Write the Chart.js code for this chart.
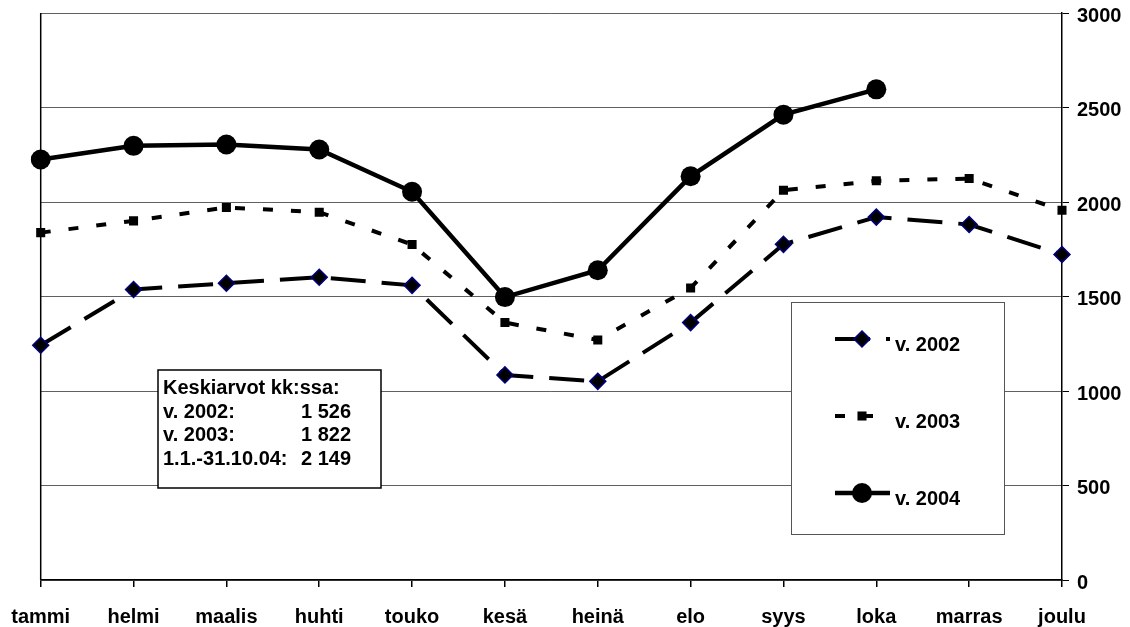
<!DOCTYPE html>
<html lang="fi">
<head>
  <meta charset="UTF-8">
  <title>Keskiarvot kk:ssa</title>
  <style>
    html, body {
      margin: 0;
      padding: 0;
      background-color: #ffffff;
    }
    #chart {
      display: block;
    }
  </style>
  <script src="https://cdn.jsdelivr.net/npm/chart.js"></script>
</head>
<body>
  <canvas id="chart" width="1130" height="627"></canvas>
  <script>
    // kuukaudet ja sarjat (luettu kuvasta)
    const months = ['tammi', 'helmi', 'maalis', 'huhti', 'touko', 'kesä', 'heinä', 'elo', 'syys', 'loka', 'marras', 'joulu'];
    const v2002 = [1242, 1537, 1570, 1602, 1559, 1085, 1051, 1362, 1776, 1920, 1881, 1722];
    const v2003 = [1838, 1900, 1971, 1946, 1775, 1362, 1270, 1545, 2062, 2112, 2124, 1956];
    const v2004 = [2225, 2297, 2304, 2278, 2054, 1497, 1639, 2136, 2462, 2596, null, null];
    const seriesLabels = ['v. 2002', 'v. 2003', 'v. 2004'];
    const yMin = 0;
    const yMax = 3000;
    const yStep = 500;
    const avgTitle = 'Keskiarvot kk:ssa:';
    const avgNames = ['v. 2002:', 'v. 2003:', '1.1.-31.10.04:'];
    const avgValues = ['1 526', '1 822', '2 149'];

    const FONT = "'Liberation Sans', Arial, sans-serif";

    // vasen reunaviiva
    const frameLine = {
      id: 'frameLine',
      beforeDatasetsDraw(chart) {
        const { ctx, chartArea } = chart;
        ctx.save();
        ctx.strokeStyle = '#000';
        ctx.lineWidth = 1.5;
        ctx.beginPath();
        ctx.moveTo(chartArea.left, chartArea.top);
        ctx.lineTo(chartArea.left, chartArea.bottom);
        ctx.stroke();
        ctx.restore();
      }
    };

    function drawMarker(ctx, style, x, y, r, fill, stroke, sw) {
      ctx.save();
      ctx.setLineDash([]);
      ctx.fillStyle = fill;
      ctx.beginPath();
      if (style === 'circle') {
        ctx.arc(x, y, r, 0, Math.PI * 2);
      } else if (style === 'rect') {
        const s = r * Math.SQRT1_2;
        ctx.rect(x - s, y - s, 2 * s, 2 * s);
      } else {
        ctx.moveTo(x, y - r);
        ctx.lineTo(x + r, y);
        ctx.lineTo(x, y + r);
        ctx.lineTo(x - r, y);
        ctx.closePath();
      }
      ctx.fill();
      if (sw) {
        ctx.strokeStyle = stroke;
        ctx.lineWidth = sw;
        ctx.stroke();
      }
      ctx.restore();
    }

    // selite ja keskiarvolaatikko
    const boxes = {
      id: 'boxes',
      afterDatasetsDraw(chart) {
        const { ctx } = chart;
        ctx.save();

        // selite
        ctx.fillStyle = '#fff';
        ctx.fillRect(791, 302, 213, 232);
        ctx.strokeStyle = '#555';
        ctx.lineWidth = 1;
        ctx.strokeRect(791.5, 302.5, 213, 232);

        const rows = [339, 416, 493];
        const textRows = [345, 422, 499];
        chart.data.datasets.forEach((ds, i) => {
          const y = rows[i];
          ctx.save();
          ctx.strokeStyle = '#000';
          ctx.lineWidth = ds.borderWidth;
          ctx.setLineDash(ds.borderDash || []);
          ctx.beginPath();
          ctx.moveTo(835, y);
          ctx.lineTo(890, y);
          ctx.stroke();
          ctx.restore();
          drawMarker(ctx, ds.pointStyle, 862, y, ds.pointRadius, ds.pointBackgroundColor, ds.pointBorderColor, ds.pointBorderWidth);
          ctx.fillStyle = '#000';
          ctx.font = 'bold 20px ' + FONT;
          ctx.textAlign = 'left';
          ctx.textBaseline = 'middle';
          ctx.fillText(ds.label, 895, textRows[i]);
        });

        // keskiarvot
        ctx.fillStyle = '#fff';
        ctx.fillRect(158, 370, 223, 118);
        ctx.strokeStyle = '#000';
        ctx.lineWidth = 1.5;
        ctx.strokeRect(158, 370, 223, 118);
        ctx.fillStyle = '#000';
        ctx.font = 'bold 20px ' + FONT;
        ctx.textBaseline = 'middle';
        ctx.textAlign = 'left';
        ctx.fillText(avgTitle, 163, 388);
        const lines = [412, 435, 459];
        avgNames.forEach((name, i) => {
          ctx.textAlign = 'left';
          ctx.fillText(name, 163, lines[i]);
          ctx.textAlign = 'right';
          ctx.fillText(avgValues[i], 351, lines[i]);
        });
        ctx.restore();
      }
    };

    const ctx = document.getElementById('chart').getContext('2d');
    new Chart(ctx, {
      type: 'line',
      data: {
        labels: months,
        datasets: [
          {
            label: seriesLabels[0],
            data: v2002,
            borderColor: '#000',
            borderWidth: 4,
            borderDash: [35, 16],
            pointStyle: 'rectRot',
            pointRadius: 8,
            pointBackgroundColor: '#000',
            pointBorderColor: '#000080',
            pointBorderWidth: 1.5,
            tension: 0,
            fill: false
          },
          {
            label: seriesLabels[1],
            data: v2003,
            borderColor: '#000',
            borderWidth: 4,
            borderDash: [10, 18],
            pointStyle: 'rect',
            pointRadius: 6.4,
            pointBackgroundColor: '#000',
            pointBorderColor: '#000',
            pointBorderWidth: 0,
            tension: 0,
            fill: false
          },
          {
            label: seriesLabels[2],
            data: v2004,
            borderColor: '#000',
            borderWidth: 4.5,
            pointStyle: 'circle',
            pointRadius: 10,
            pointBackgroundColor: '#000',
            pointBorderColor: '#000',
            pointBorderWidth: 0,
            tension: 0,
            fill: false,
            spanGaps: false
          }
        ]
      },
      options: {
        responsive: false,
        animation: false,
        layout: {
          padding: { left: 40.7, top: 13, right: 0, bottom: 0 }
        },
        plugins: {
          legend: { display: false },
          tooltip: { enabled: false }
        },
        scales: {
          x: {
            type: 'category',
            offset: false,
            grid: {
              drawOnChartArea: false,
              drawTicks: true,
              tickLength: 7,
              color: '#000',
              lineWidth: 1.5
            },
            border: { color: '#000', width: 1.5 },
            ticks: {
              color: '#000',
              font: { family: FONT, size: 20, weight: 'bold' },
              padding: 18,
              maxRotation: 0,
              autoSkip: false
            },
            afterFit(scale) {
              scale.height = 47;
              scale.paddingLeft = 0;
              scale.paddingRight = 0;
            }
          },
          y: {
            position: 'right',
            min: yMin,
            max: yMax,
            grid: {
              color: '#606060',
              lineWidth: 1,
              tickLength: 7,
              tickColor: '#000'
            },
            border: { color: '#000', width: 1.5 },
            ticks: {
              stepSize: yStep,
              color: '#000',
              font: { family: FONT, size: 20, weight: 'bold' },
              padding: 8,
              labelOffset: 3,
              callback: (v) => String(v)
            },
            afterFit(scale) {
              scale.width = 68;
              scale.paddingTop = 0;
              scale.paddingBottom = 0;
            }
          }
        }
      },
      plugins: [frameLine, boxes]
    });
  </script>
</body>
</html>
